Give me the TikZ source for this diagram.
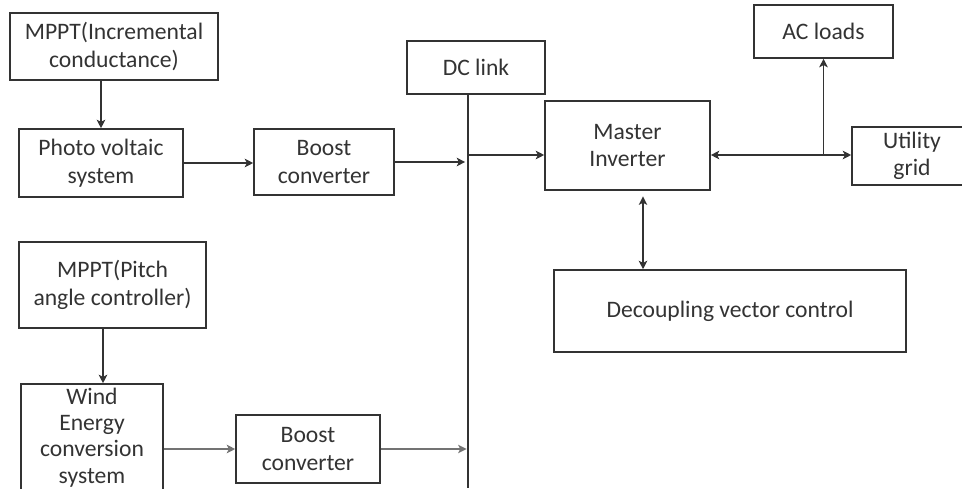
\documentclass[tikz,border=0pt]{standalone}
\usepackage{fontspec}
\setmainfont{Carlito}
\usepackage{tikz}
\usetikzlibrary{arrows.meta,positioning,calc}

\tikzset{
  blk/.style={draw=black!80, line width=1.1pt, text=black!80, align=center,
              inner sep=2pt, font=\fontsize{16.8}{19.5}\selectfont},
  wire/.style={draw=black!80, line width=1.1pt},
  >={Stealth[length=6pt,width=6pt,inset=1.5pt]}
}

\begin{document}
\begin{tikzpicture}
\useasboundingbox (0,0) rectangle (24.05,12.2);
% source side
\node[blk, minimum width=5.2cm, minimum height=1.675cm] (mppti) at (2.85,11.0375) {MPPT(Incremental\\conductance)};
\node[blk, minimum width=4.1cm, minimum height=1.7cm] (pv) at (2.525,8.125) {Photo voltaic\\system};
\node[blk, minimum width=3.5cm, minimum height=1.65cm] (boosta) at (8.1,8.15) {Boost\\converter};
\node[blk, minimum width=4.675cm, minimum height=2.15cm] (mpptp) at (2.8125,5.075) {MPPT(Pitch\\angle controller)};
\node[blk, minimum width=3.55cm, minimum height=2.675cm, font=\fontsize{16.8}{18.6}\selectfont] (wind) at (2.3,1.2625) {Wind\\Energy\\conversion\\system};
\node[blk, minimum width=3.6cm, minimum height=1.7cm] (boostb) at (7.7,0.975) {Boost\\converter};
% dc bus and ac side
\node[blk, minimum width=3.45cm, minimum height=1.325cm] (dclink) at (11.9,10.5125) {DC link};
\node[blk, minimum width=4.125cm, minimum height=2.225cm] (inv) at (15.6875,8.5625) {Master\\Inverter};
\node[blk, minimum width=3.475cm, minimum height=1.325cm] (acloads) at (20.5875,11.4125) {AC loads};
\node[blk, minimum width=3cm, minimum height=1.45cm] (grid) at (22.8,8.3) {Utility\\grid};
\node[blk, minimum width=8.8cm, minimum height=2.05cm] (dvc) at (18.25,4.425) {Decoupling vector control};

\coordinate (bb) at (11.7,0);
\coordinate (ac) at (0,8.325);
\coordinate (vc) at (16.075,0);
\coordinate (wc) at (2.575,0);

\draw[wire] (dclink.south -| bb) -- (bb);
\draw[wire,->] (mppti.south -| pv.north) -- (pv.north);
\draw[wire,->] (pv.east) -- (pv.east -| boosta.west);
\draw[wire,->, shorten >=2pt] (boosta.east) -- (boosta.east -| bb);
\draw[wire,->] (wc |- mpptp.south) -- (wc |- wind.north);
\draw[wire,->, draw=black!55] (wind.east |- boostb) -- (boostb.west);
\draw[wire,->, draw=black!55, shorten >=1pt] (boostb.east) -- (boostb.east -| bb);
\draw[wire,->] (bb |- ac) -- (inv.west |- ac);
\draw[wire,<->] (inv.east |- ac) -- (grid.west |- ac);
\draw[wire,->] (acloads.south |- ac) -- (acloads.south);
\draw[wire,<->, shorten <=4pt] (vc |- inv.south) -- (vc |- dvc.north);
\end{tikzpicture}
\end{document}
